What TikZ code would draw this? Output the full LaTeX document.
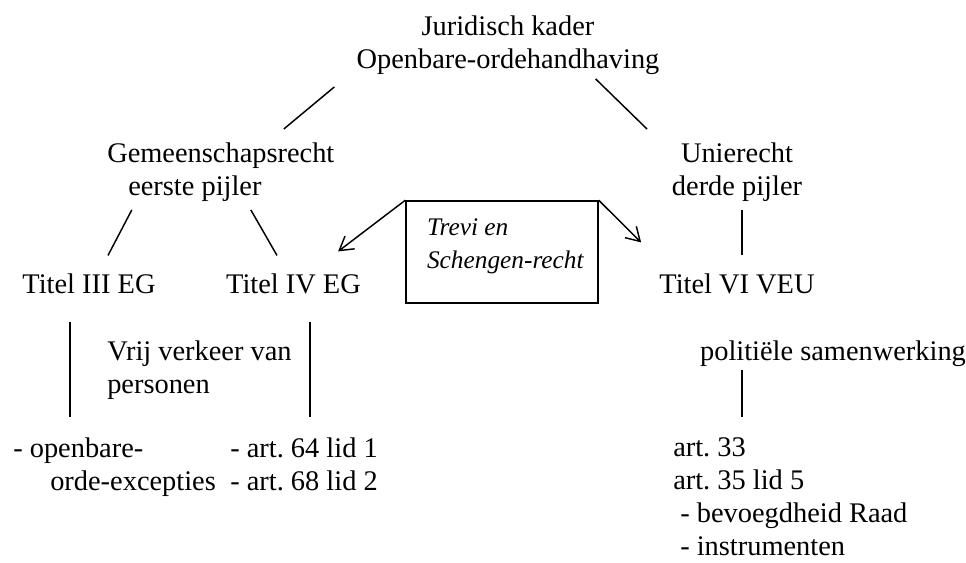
\documentclass[tikz,border=0pt]{standalone}
\usepackage{fontspec}
\setmainfont{Liberation Serif}
\usetikzlibrary{arrows.meta}
\tikzset{
  tekst/.style={inner sep=0pt, font=\fontsize{21.3pt}{24.75pt}\selectfont},
  lijn/.style={line width=1.1pt},
  pijl/.style={line width=1.1pt, -{Straight Barb[length=10pt,width=12pt]}}
}
\begin{document}
\frenchspacing
\begin{tikzpicture}[x=0.75pt,y=-0.75pt]
 \useasboundingbox (0,0) rectangle (966,563);
 % bovenste niveaus
 \node[tekst,align=center,anchor=north] (kader) at (508,15.6) {Juridisch kader\\Openbare-ordehandhaving};
 \node[tekst,align=left,anchor=north west] (gem) at (107,142.6) {Gemeenschapsrecht\\\hspace*{15.75pt}eerste pijler};
 \node[tekst,align=center,anchor=north] (unie) at (737,142.6) {Unierecht\\derde pijler};
 \node[tekst,anchor=base] (titel3) at (89,293) {Titel III EG};
 \node[tekst,anchor=base] (titel4) at (293.5,293) {Titel IV EG};
 \node[tekst,anchor=base] (titel6) at (737,293) {Titel VI VEU};
 \node[draw,lijn,tekst] (trevi) at (502,252) {\parbox[c][76.5pt][t]{144pt}{\vspace*{13pt}\itshape\fontsize{19pt}{24.75pt}\selectfont
   \hspace*{15.75pt}Trevi en\\\hspace*{15.75pt}Schengen-recht}};
 % onderste niveaus
 \node[tekst,align=left,anchor=north west] (vrij) at (107,340.6) {Vrij verkeer van\\personen};
 \node[tekst,anchor=base] (pol) at (833,360) {politiële samenwerking};
 \node[tekst,align=left,anchor=north west] (exc) at (13,437.6) {- openbare-\\\hspace*{27.75pt}orde-excepties};
 \node[tekst,align=left,anchor=north west] (art64) at (230,437.6) {- art. 64 lid 1\\- art. 68 lid 2};
 \node[tekst,align=left,anchor=north west] (art33) at (673,437.6) {art. 33\\art. 35 lid 5\\\hspace*{5.25pt}- bevoegdheid Raad\\\hspace*{5.25pt}- instrumenten};
 % lijnen
 \draw[lijn] ([shift={(-22,12)}]kader.south west) -- ([shift={(63,-13.6)}]gem.north);
 \draw[lijn] ([shift={(-64,4)}]kader.south east) -- ([shift={(-90,-13.6)}]unie.north);
 \draw[lijn] ([shift={(-89,8)}]gem.south) -- ([shift={(19,-17.6)}]titel3.north);
 \draw[lijn] ([shift={(30,8)}]gem.south) -- ([shift={(-16.5,-17.6)}]titel4.north);
 \draw[lijn] ([shift={(5,8)}]unie.south) -- ([shift={(5,-17.6)}]titel6.north);
 \draw[lijn] ([shift={(-19,28)}]titel3.south) -- ([shift={(57,-20.6)}]exc.north west);
 \draw[lijn] ([shift={(16.5,28)}]titel4.south) -- ([shift={(80,-20.6)}]art64.north west);
 \draw[lijn] ([shift={(-91,4)}]pol.south) -- ([shift={(69,-20.6)}]art33.north west);
 \draw[pijl] (trevi.north west) -- ([shift={(-23,-21.6)}]titel4.north east);
 \draw[pijl] (trevi.north east) -- ([shift={(-18,-30.6)}]titel6.north west);
\end{tikzpicture}
\end{document}
